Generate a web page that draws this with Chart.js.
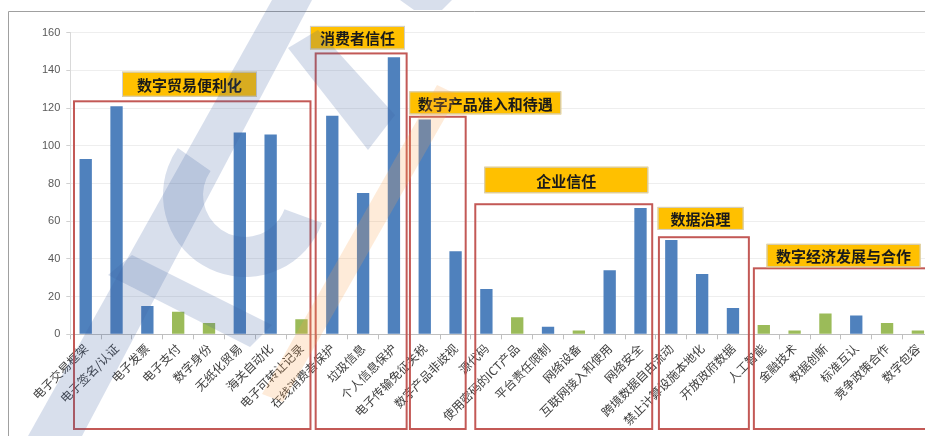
<!DOCTYPE html>
<html lang="zh-CN">
<head>
<meta charset="utf-8">
<title>数字贸易规则议题</title>
<script src="https://cdn.jsdelivr.net/npm/chart.js@4.4.1/dist/chart.umd.min.js"></script>
<style>
  html, body { margin: 0; padding: 0; background: #fff; overflow: hidden; }
  #marco { width: 925px; height: 436px; overflow: hidden; position: relative; }
  canvas { display: block; }
</style>
</head>
<body>
<div id="marco"><canvas id="graficoTemas" width="940" height="436"></canvas></div>
<script>
//议题名称
const temas = [
    '电子交易框架', '电子签名/认证', '电子发票', '电子支付', '数字身份', '无纸化贸易',
    '海关自动化', '电子可转让记录', '在线消费者保护', '垃圾信息', '个人信息保护',
    '电子传输免征关税', '数字产品非歧视', '源代码', '使用密码的ICT产品', '平台责任限制',
    '网络设备', '互联网接入和使用', '网络安全', '跨境数据自由流动', '禁止计算设施本地化',
    '开放政府数据', '人工智能', '金融技术', '数据创新', '标准互认', '竞争政策合作', '数字包容'
];

// 蓝色柱 / 绿色柱 (null = 该议题属于另一组)
const valoresAzul = [93, 121, 15, null, null, 107, 106, null, 116, 75, 147, 114, 44, 24,
    null, 4, null, 34, 67, 50, 32, 14, null, null, null, 10, null, null];
const valoresVerde = [null, null, null, 12, 6, null, null, 8, null, null, null, null, null, null,
    9, null, 2, null, null, null, null, null, 5, 2, 11, null, 6, 2];

const ticksY = [0, 20, 40, 60, 80, 100, 120, 140, 160];

// 议题分组
const grupos = ['数字贸易便利化', '消费者信任', '数字产品准入和待遇', '企业信任', '数据治理', '数字经济发展与合作'];
const grupoInicio = [0, 8, 11, 13, 19, 22];
const grupoFin = [7, 10, 12, 18, 21, 27];

// 红框与标签的摆放
const cajas = [
    { tope: 123.6, inL: 3.7, inR: 6.4, dx: 48, w: 135, h: 25, gap: 4.6 },
    { tope: 149, inL: -1.2, inR: 2.7, dx: -5.7, w: 95, h: 23.5, gap: 4 },
    { tope: 115.4, inL: 0.6, inR: 5.3, dx: -0.7, w: 152, h: 23, gap: 2.4 },
    { tope: 69, inL: 4.3, inR: 3.7, dx: 9, w: 164, h: 26.5, gap: 11 },
    { tope: 51.5, inL: 3, inR: -0.5, dx: -1.3, w: 86, h: 23, gap: 7.3 },
    { tope: 35, inL: 5.5, inR: 3, dx: 12.7, w: 154, h: 23.5, gap: 1 }
];

const marcoGrupos = {
    id: 'marcoGrupos',
    afterDraw(chart) {
        const ctx = chart.ctx;
        const x = chart.scales.x;
        const y = chart.scales.y;
        const mitad = (x.getPixelForValue(1) - x.getPixelForValue(0)) / 2;

        ctx.save();
        // 外框
        ctx.strokeStyle = '#a0a0a0';
        ctx.lineWidth = 1;
        ctx.beginPath();
        ctx.moveTo(8.5, 436);
        ctx.lineTo(8.5, 11.5);
        ctx.lineTo(chart.width, 11.5);
        ctx.stroke();

        grupos.forEach((nombre, i) => {
            const c = cajas[i];
            const izq = x.getPixelForValue(grupoInicio[i]) - mitad + c.inL;
            const der = x.getPixelForValue(grupoFin[i]) + mitad - c.inR;
            const arriba = y.getPixelForValue(c.tope);
            const abajo = 429;

            ctx.strokeStyle = 'rgba(192, 80, 77, 0.95)';
            ctx.lineWidth = 2;
            ctx.strokeRect(izq, arriba, der - izq, abajo - arriba);

            const lx = izq + c.dx;
            const ly = arriba - c.gap - c.h;
            ctx.fillStyle = '#ffc000';
            ctx.fillRect(lx, ly, c.w, c.h);
            ctx.strokeStyle = '#cfcfcf';
            ctx.lineWidth = 1;
            ctx.strokeRect(lx + 0.5, ly + 0.5, c.w - 1, c.h - 1);

            ctx.fillStyle = '#1a1a1a';
            ctx.font = 'bold 15px "Noto Sans CJK SC"';
            ctx.textAlign = 'center';
            ctx.textBaseline = 'middle';
            ctx.fillText(nombre, lx + c.w / 2, ly + c.h / 2 + 1);
        });

        // 水印
        ctx.fillStyle = 'rgba(60, 95, 160, 0.2)';
        const poligono = (pts) => {
            ctx.beginPath();
            ctx.moveTo(pts[0][0], pts[0][1]);
            pts.slice(1).forEach(p => ctx.lineTo(p[0], p[1]));
            ctx.closePath();
            ctx.fill();
        };
        poligono([[272, 0], [312, 0], [82, 436], [28, 436]]);
        poligono([[288, 48], [318, 30], [395, 115], [368, 150]]);
        poligono([[108, 275], [132, 255], [272, 325], [250, 347]]);
        poligono([[400, 0], [452, 0], [442, 10], [414, 10]]);
        ctx.beginPath();
        const r = Math.PI / 180;
        ctx.arc(245, 195, 82, 20 * r, 215 * r);
        ctx.arc(245, 195, 42, 215 * r, 20 * r, true);
        ctx.closePath();
        ctx.fill();
        ctx.fillStyle = 'rgba(250, 165, 80, 0.22)';
        poligono([[437, 85], [458, 95], [283, 402], [262, 394]]);
        ctx.restore();
    }
};

const ctx = document.getElementById('graficoTemas').getContext('2d');

new Chart(ctx, {
    type: 'bar',
    data: {
        labels: temas,
        datasets: [{
            label: '蓝',
            data: valoresAzul,
            backgroundColor: '#4f81bd',
            barPercentage: 0.4,
            categoryPercentage: 1
        }, {
            label: '绿',
            data: valoresVerde,
            backgroundColor: '#9bbb59',
            barPercentage: 0.4,
            categoryPercentage: 1
        }]
    },
    options: {
        responsive: false,
        animation: false,
        layout: {
            padding: { top: 32.7, left: 0, right: 6.7, bottom: 0 }
        },
        plugins: {
            legend: { display: false },
            tooltip: { enabled: false }
        },
        scales: {
            x: {
                stacked: true,
                afterFit: (scale) => { scale.height = 101.7; },
                grid: {
                    drawOnChartArea: false,
                    color: '#bfbfbf',
                    tickLength: 5
                },
                border: { color: '#bfbfbf' },
                ticks: {
                    autoSkip: false,
                    minRotation: 45,
                    maxRotation: 45,
                    padding: 2,
                    color: '#404040',
                    font: { family: '"Noto Sans CJK SC"', size: 12 }
                }
            },
            y: {
                stacked: true,
                min: 0,
                max: 160,
                afterFit: (scale) => { scale.width = 70.3; },
                afterBuildTicks: (scale) => { scale.ticks = ticksY.map(v => ({ value: v })); },
                grid: {
                    color: '#eeeeee',
                    tickColor: '#d0d0d0',
                    tickLength: 4
                },
                border: { color: '#d9d9d9' },
                ticks: {
                    padding: 6,
                    color: '#595959',
                    font: { family: '"Liberation Sans"', size: 11 }
                }
            }
        }
    },
    plugins: [marcoGrupos]
});
</script>
</body>
</html>
